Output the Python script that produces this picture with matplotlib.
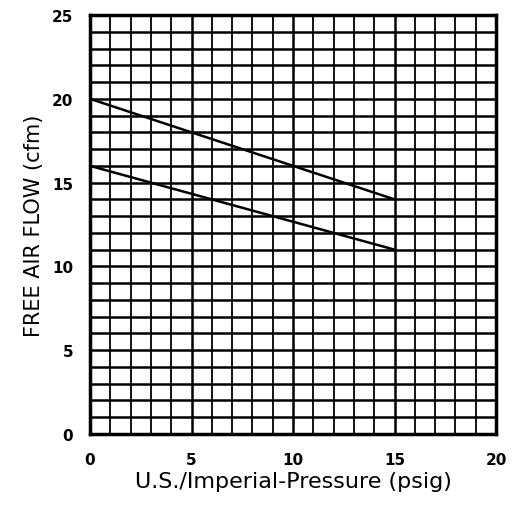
import matplotlib.pyplot as plt
import numpy as np

# data
pressure = [0, 15]
flow_upper = [20, 14]
flow_lower = [16, 11]
x_ticks = [0, 5, 10, 15, 20]
y_ticks = [0, 5, 10, 15, 20, 25]

fig = plt.figure(figsize=(5.22, 5.06), dpi=100)
ax = fig.add_axes([0.1724, 0.1403, 0.778, 0.828])

# grid paper
for xv in np.arange(1, 20):
    ax.axvline(xv, color='black', lw=1.3 if xv % 5 else 1.8, zorder=1)
for yv in np.arange(1, 25):
    ax.axhline(yv, color='black', lw=1.8, zorder=1)

ax.plot(pressure, flow_upper, color='black', lw=1.8, zorder=2)
ax.plot(pressure, flow_lower, color='black', lw=1.8, zorder=2)

ax.set_xlim(0, 20)
ax.set_ylim(0, 25)
ax.set_xticks(x_ticks)
ax.set_yticks(y_ticks)
ax.tick_params(length=0, labelsize=11, pad=13)
ax.tick_params(axis='y', pad=12)
for lab in ax.get_xticklabels() + ax.get_yticklabels():
    lab.set_fontweight('bold')
for s in ax.spines.values():
    s.set_linewidth(2.5)

ax.set_xlabel('U.S./Imperial-Pressure (psig)', fontsize=16, labelpad=3)
ax.set_ylabel('FREE AIR FLOW (cfm)', fontsize=15, labelpad=6)

fig.savefig('out.png', dpi=100)
